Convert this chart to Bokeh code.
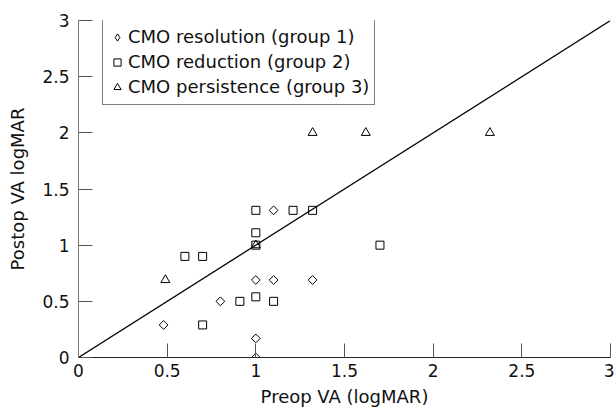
import math
from bokeh.plotting import figure
from bokeh.models import Range1d, FixedTicker, Legend, LegendItem
from bokeh.embed import file_html
from bokeh.resources import INLINE

# Data
g1_pre = [0.48, 0.80, 1.00, 1.10, 1.00, 1.00, 1.10, 1.32]
g1_post = [0.29, 0.50, 0.69, 0.69, 0.17, 0.00, 1.31, 0.69]

g2_pre = [1.00, 1.21, 1.32, 1.00, 1.00, 0.60, 0.70, 0.91, 1.00, 1.10, 0.70, 1.70]
g2_post = [1.31, 1.31, 1.31, 1.11, 1.00, 0.90, 0.90, 0.50, 0.54, 0.50, 0.29, 1.00]

g3_pre = [0.49, 1.00, 1.32, 1.62, 2.32]
g3_post = [0.69, 1.00, 2.00, 2.00, 2.00]

line_x = [0, 3]
line_y = [0, 3]

ticks = [0, 0.5, 1, 1.5, 2, 2.5, 3]
tick_labels = {0: "0", 0.5: "0.5", 1: "1", 1.5: "1.5", 2: "2", 2.5: "2.5", 3: "3"}

labels = ["CMO resolution (group 1)", "CMO reduction (group 2)", "CMO persistence (group 3)"]

FONT = "DejaVu Sans"

p = figure(width=614, height=413, output_backend="svg", toolbar_location=None,
           x_range=Range1d(0, 3), y_range=Range1d(0, 3),
           min_border_left=78, min_border_right=4, min_border_top=20, min_border_bottom=56)
p.outline_line_color = None
p.xgrid.visible = False
p.ygrid.visible = False

for ax in (p.xaxis[0], p.yaxis[0]):
    ax.ticker = FixedTicker(ticks=ticks)
    ax.major_label_overrides = tick_labels
    ax.minor_tick_line_color = None
    ax.major_tick_in = 14
    ax.major_tick_out = 0
    ax.major_tick_line_color = "#555555"
    ax.major_label_text_font = FONT
    ax.major_label_text_font_size = "17px"
    ax.major_label_text_color = "#111111"
    ax.axis_label_text_font = FONT
    ax.axis_label_text_font_size = "18px"
    ax.axis_label_text_font_style = "normal"
    ax.axis_label_text_color = "#111111"

p.xaxis.axis_line_color = "#222222"
p.yaxis.axis_line_color = "#777777"
p.xaxis.major_label_standoff = 6
p.xaxis.axis_label_standoff = 6
p.yaxis.major_label_standoff = 9
p.yaxis.axis_label_standoff = 11
p.xaxis.axis_label = "Preop VA (logMAR)"
p.yaxis.axis_label = "Postop VA logMAR"

p.line(line_x, line_y, line_color="black", line_width=1.3)

r1 = p.scatter(g1_pre, g1_post, marker="square", angle=math.pi / 4, size=6.2,
               line_color="black", line_width=1, fill_alpha=0)
r2 = p.scatter(g2_pre, g2_post, marker="square", size=8,
               line_color="black", line_width=1, fill_alpha=0)
r3 = p.scatter(g3_pre, g3_post, marker="triangle", size=9,
               line_color="black", line_width=1, fill_alpha=0)
# legend-only glyph for the diamond symbol (legend ignores marker angle)
r1_leg = p.scatter([float("nan")], [float("nan")], marker="diamond", size=10,
                   line_color="black", line_width=1, fill_alpha=0)

legend = Legend(items=[LegendItem(label=labels[0], renderers=[r1_leg]),
                       LegendItem(label=labels[1], renderers=[r2]),
                       LegendItem(label=labels[2], renderers=[r3])],
                location=(24, 252))
legend.margin = 0
legend.padding = 5
legend.spacing = 0
legend.glyph_width = 18
legend.glyph_height = 20
legend.label_height = 25
legend.label_standoff = 2
legend.label_text_font = FONT
legend.label_text_font_size = "18px"
legend.label_text_color = "#111111"
legend.border_line_color = "black"
legend.border_line_width = 1
legend.background_fill_color = "white"
legend.background_fill_alpha = 1
p.add_layout(legend)

open("out.html", "w").write(file_html(p, INLINE))
